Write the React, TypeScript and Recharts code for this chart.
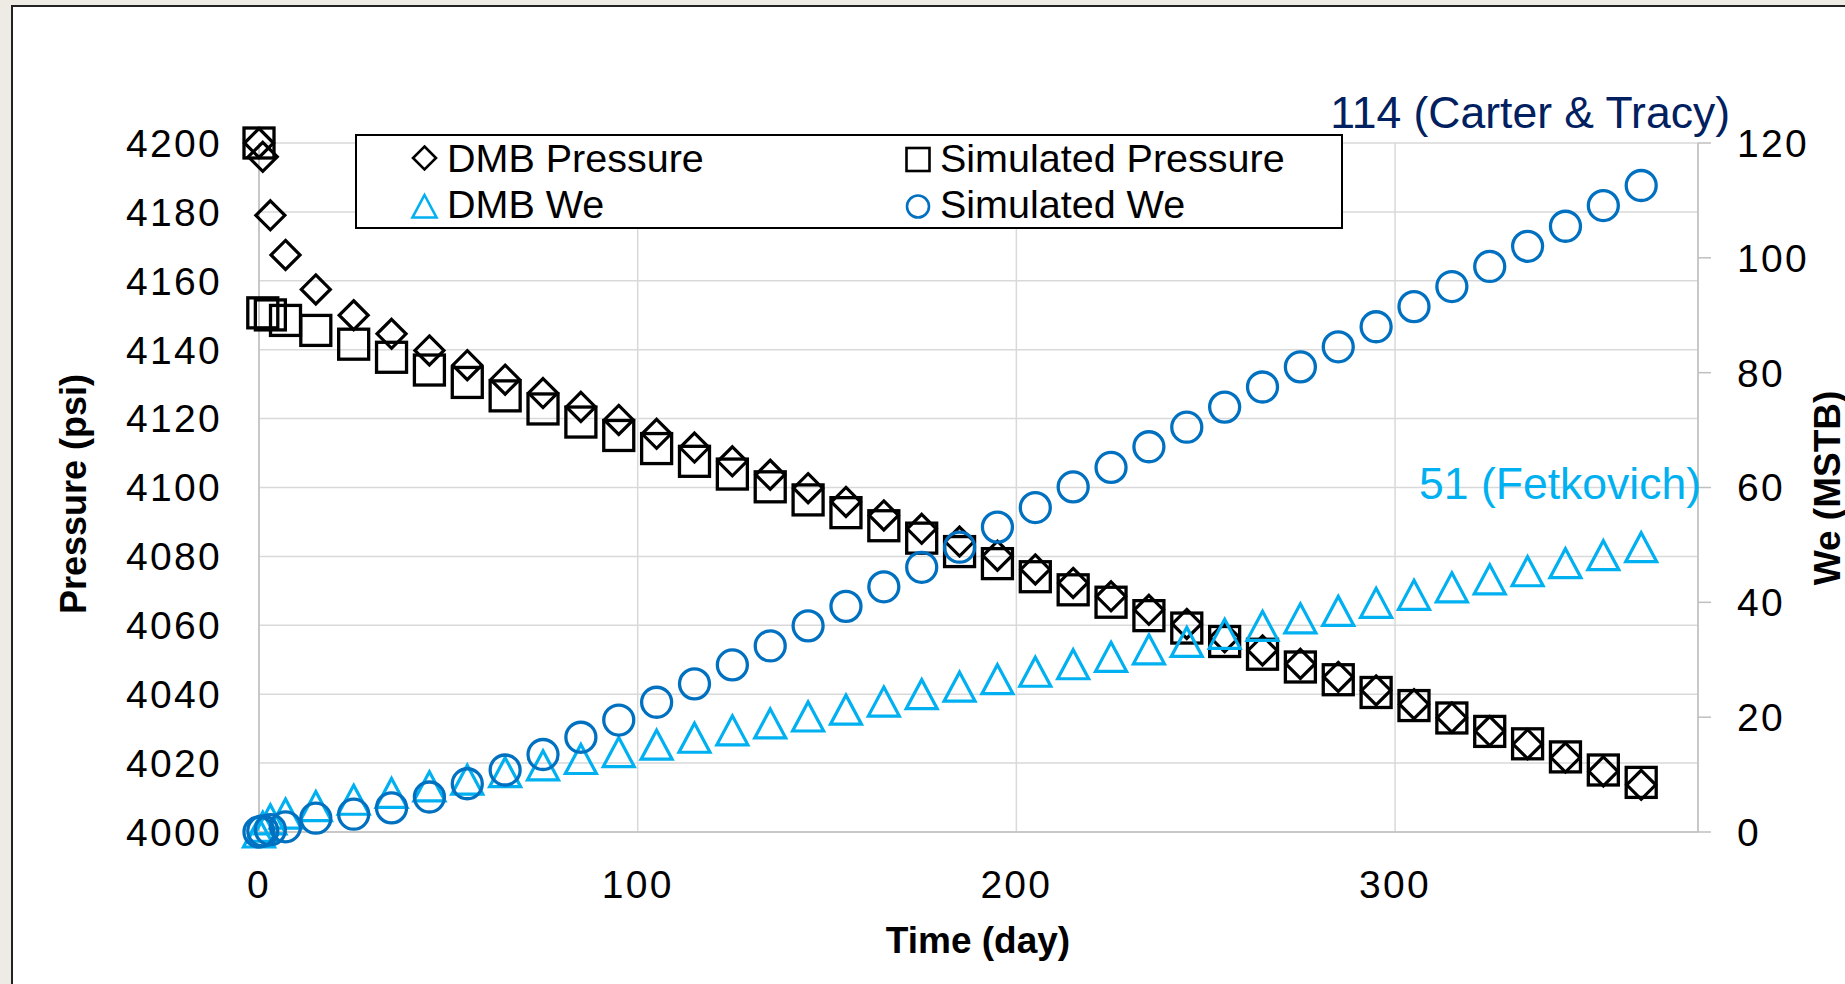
import React from 'react';
import { ScatterChart, Scatter, XAxis, YAxis, CartesianGrid } from 'recharts';

const times = [0, 1, 3, 7, 15, 25, 35, 45, 55, 65, 75, 85, 95, 105, 115, 125, 135, 145, 155, 165, 175, 185, 195, 205, 215, 225, 235, 245, 255, 265, 275, 285, 295, 305, 315, 325, 335, 345, 355, 365];

const dmbPressure = [4200, 4196, 4179, 4167.5, 4157.5, 4150, 4144.6, 4139.8, 4135.5, 4131.3, 4127.4, 4123.4, 4119.6, 4115.6, 4111.6, 4107.6, 4103.7, 4099.8, 4095.8, 4091.9, 4088, 4084.3, 4080.2, 4076.2, 4072.3, 4068.4, 4064.5, 4060.4, 4056.5, 4052.7, 4048.8, 4045, 4041.1, 4037.1, 4033.2, 4029.3, 4025.5, 4021.6, 4017.6, 4013.7];

const simPressure = [4200, 4150.7, 4150.1, 4148.5, 4145.6, 4141.6, 4137.8, 4134.1, 4130.5, 4126.6, 4122.8, 4119, 4115.1, 4111.3, 4107.6, 4103.9, 4100.2, 4096.4, 4092.7, 4088.9, 4085.3, 4081.4, 4077.9, 4074.1, 4070.3, 4066.7, 4062.8, 4059.2, 4055.3, 4051.6, 4047.9, 4044.2, 4040.5, 4036.7, 4033.1, 4029.2, 4025.6, 4021.8, 4018, 4014.4];

const dmbWe = [0, 1.0, 2.3, 3.3, 4.6, 5.7, 6.9, 8.05, 9.2, 10.5, 11.7, 12.8, 14.0, 15.3, 16.5, 17.8, 19.0, 20.2, 21.4, 22.8, 24.1, 25.4, 26.7, 28.0, 29.3, 30.6, 31.9, 33.2, 34.6, 36.0, 37.3, 38.6, 40.0, 41.4, 42.7, 44.1, 45.5, 46.9, 48.3, 49.7];

const simWe = [0, 0.2, 0.4, 0.9, 2.4, 3.1, 4.2, 6.1, 8.4, 10.8, 13.5, 16.5, 19.5, 22.6, 25.8, 29.1, 32.4, 35.9, 39.3, 42.7, 46.1, 49.6, 53.1, 56.5, 60.1, 63.5, 67.1, 70.5, 74.0, 77.5, 81.0, 84.5, 88.0, 91.5, 95.0, 98.5, 102.0, 105.5, 109.1, 112.6];

const xTicks = [0, 100, 200, 300];
const pressureTicks = [4000, 4020, 4040, 4060, 4080, 4100, 4120, 4140, 4160, 4180, 4200];
const weTicks = [0, 20, 40, 60, 80, 100, 120];

const seriesNames = ['DMB Pressure', 'Simulated Pressure', 'DMB We', 'Simulated We'];
const annotCarter = '114 (Carter & Tracy)';
const annotFetkovich = '51 (Fetkovich)';

const FONT = '"Liberation Sans", Arial, sans-serif';
const LIGHT_BLUE = '#00b0f0';
const BLUE = '#0070c0';
const NAVY = '#002060';

const toPts = (vals: number[]) => times.map((t, i) => ({ t, v: vals[i] }));

const diamondPath = (cx: number, cy: number, r: number) =>
  `M${cx},${cy - r}L${cx + r},${cy}L${cx},${cy + r}L${cx - r},${cy}Z`;
const trianglePath = (cx: number, cy: number, hw: number, up: number, down: number) =>
  `M${cx},${cy - up}L${cx + hw},${cy + down}L${cx - hw},${cy + down}Z`;

const DiamondShape = (p: any) => {
  if (p.cx == null || p.cy == null) return null;
  return <path d={diamondPath(p.cx, p.cy, 14.5)} fill="none" stroke="#000" strokeWidth={3.2} strokeLinejoin="miter" />;
};
const SquareShape = (p: any) => {
  if (p.cx == null || p.cy == null) return null;
  return <rect x={p.cx - 15} y={p.cy - 15} width={30} height={30} fill="none" stroke="#000" strokeWidth={3.3} />;
};
const TriangleShape = (p: any) => {
  if (p.cx == null || p.cy == null) return null;
  return <path d={trianglePath(p.cx, p.cy, 15.5, 14, 15)} fill="none" stroke={LIGHT_BLUE} strokeWidth={3.2} strokeLinejoin="miter" />;
};
const CircleShape = (p: any) => {
  if (p.cx == null || p.cy == null) return null;
  return <circle cx={p.cx} cy={p.cy} r={15} fill="none" stroke={BLUE} strokeWidth={3.3} />;
};

const tickStyle = { fontSize: 39, fill: '#000', fontFamily: FONT, letterSpacing: 2.3 };
const axisLineStyle = { stroke: '#bfbfbf', strokeWidth: 1.5 };

export default function App() {
  return (
    <div style={{ position: 'fixed', left: 0, top: 0, width: 1845, height: 984, overflow: 'hidden', background: '#eeebe4', fontFamily: FONT }}>
      <div style={{ position: 'absolute', left: 11, top: 5, width: 1900, height: 1100, background: '#fff', border: '2px solid #222' }} />
      <div style={{ position: 'absolute', left: 0, top: 0 }}>
        <ScatterChart width={1845} height={984} margin={{ top: 143, right: 27, bottom: 92, left: 139 }}>
          <CartesianGrid yAxisId="p" stroke="#d9d9d9" strokeWidth={1.5} />
          <XAxis
            type="number"
            dataKey="t"
            domain={[0, 380]}
            ticks={xTicks}
            interval={0}
            height={60}
            tickLine={false}
            tickSize={0}
            tickMargin={38}
            axisLine={axisLineStyle}
            tick={tickStyle}
          />
          <YAxis
            yAxisId="p"
            type="number"
            dataKey="v"
            domain={[4000, 4200]}
            ticks={pressureTicks}
            interval={0}
            width={120}
            tickLine={false}
            tickSize={0}
            tickMargin={37}
            axisLine={axisLineStyle}
            tick={tickStyle}
          />
          <YAxis
            yAxisId="w"
            orientation="right"
            type="number"
            dataKey="v"
            domain={[0, 120]}
            ticks={weTicks}
            interval={0}
            width={120}
            tickLine={{ stroke: '#bfbfbf', strokeWidth: 1.5 }}
            tickSize={13}
            tickMargin={26}
            axisLine={axisLineStyle}
            tick={tickStyle}
          />
          <Scatter name={seriesNames[0]} data={toPts(dmbPressure)} yAxisId="p" shape={(p: any) => <DiamondShape {...p} />} isAnimationActive={false} />
          <Scatter name={seriesNames[1]} data={toPts(simPressure)} yAxisId="p" shape={(p: any) => <SquareShape {...p} />} isAnimationActive={false} />
          <Scatter name={seriesNames[2]} data={toPts(dmbWe)} yAxisId="w" shape={(p: any) => <TriangleShape {...p} />} isAnimationActive={false} />
          <Scatter name={seriesNames[3]} data={toPts(simWe)} yAxisId="w" shape={(p: any) => <CircleShape {...p} />} isAnimationActive={false} />
        </ScatterChart>
      </div>
      <svg width={1845} height={984} style={{ position: 'absolute', left: 0, top: 0, pointerEvents: 'none' }} fontFamily={FONT}>
        <text transform="translate(86,494) rotate(-90)" textAnchor="middle" fontSize={36} fontWeight="bold" fill="#000">Pressure (psi)</text>
        <text x={978} y={953} textAnchor="middle" fontSize={37} fontWeight="bold" fill="#000">Time (day)</text>
        <text transform="translate(1840,488) rotate(-90)" textAnchor="middle" fontSize={37} fontWeight="bold" fill="#000">We (MSTB)</text>
        <text x={1730} y={128} textAnchor="end" fontSize={44.5} fill={NAVY}>{annotCarter}</text>
        <text x={1701} y={499} textAnchor="end" fontSize={44.5} fill={LIGHT_BLUE}>{annotFetkovich}</text>
        <rect x={356} y={135} width={986} height={93} fill="#fff" stroke="#000" strokeWidth={2} />
        <path d={diamondPath(424.5, 158, 11.5)} fill="none" stroke="#000" strokeWidth={2.6} />
        <text x={447} y={171.7} fontSize={39.5} fill="#000">{seriesNames[0]}</text>
        <path d={trianglePath(424.5, 206, 12, 11, 11.5)} fill="none" stroke={LIGHT_BLUE} strokeWidth={2.6} />
        <text x={447} y={218.3} fontSize={39.5} fill="#000">{seriesNames[2]}</text>
        <rect x={906.5} y={148} width={23} height={23} fill="none" stroke="#000" strokeWidth={2.6} />
        <text x={940} y={171.7} fontSize={39.5} fill="#000">{seriesNames[1]}</text>
        <circle cx={918} cy={206.5} r={11} fill="none" stroke={BLUE} strokeWidth={2.6} />
        <text x={940} y={218.3} fontSize={39.5} fill="#000">{seriesNames[3]}</text>
      </svg>
    </div>
  );
}
